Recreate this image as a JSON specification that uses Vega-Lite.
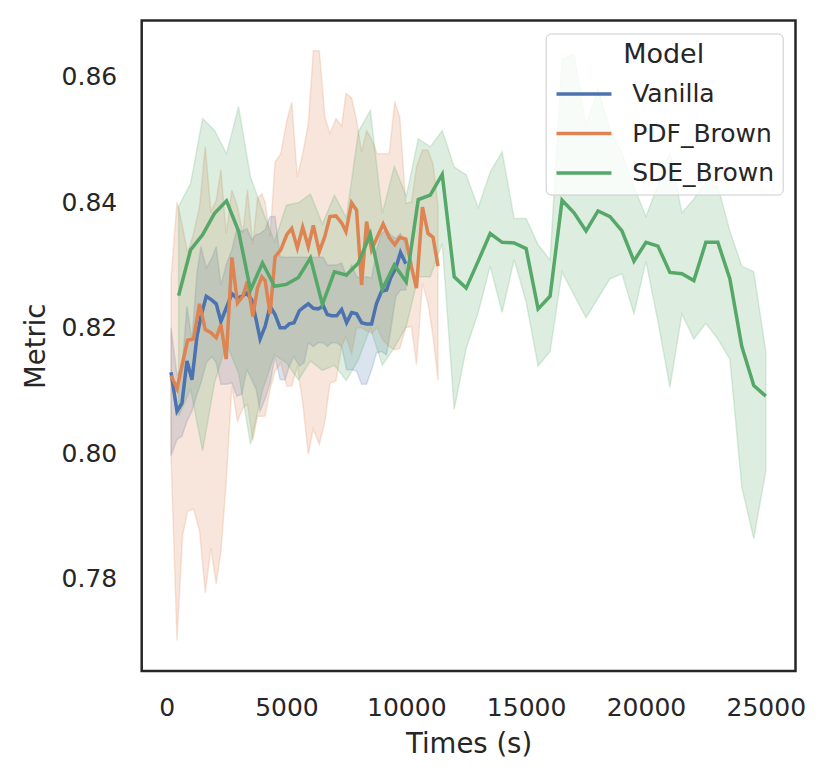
{
  "$schema": "https://vega.github.io/schema/vega-lite/v6.json",
  "width": 653.8,
  "height": 650.5,
  "autosize": {"type": "none"},
  "padding": {"left": 141.7, "top": 20.5, "right": 33.5, "bottom": 110},
  "background": "white",
  "config": {
    "font": "DejaVu Sans",
    "view": {"stroke": "#262626", "strokeWidth": 2.5},
    "axis": {
      "grid": false,
      "domain": false,
      "ticks": false,
      "tickSize": 0,
      "labelFlush": false,
      "labelFont": "DejaVu Sans",
      "labelFontSize": 25,
      "labelColor": "#262626",
      "titleFont": "DejaVu Sans",
      "titleFontSize": 27.5,
      "titleFontWeight": "normal",
      "titleColor": "#262626"
    }
  },
  "data": {
    "values": [
      {"model": "Vanilla", "t": 183, "m": 0.8129, "lo": 0.7996, "hi": 0.8200},
      {"model": "Vanilla", "t": 433, "m": 0.8067, "lo": 0.8022, "hi": 0.8125},
      {"model": "Vanilla", "t": 641, "m": 0.8080, "lo": 0.8027, "hi": 0.8135},
      {"model": "Vanilla", "t": 849, "m": 0.8147, "lo": 0.8051, "hi": 0.8234},
      {"model": "Vanilla", "t": 1057, "m": 0.8117, "lo": 0.8067, "hi": 0.8180},
      {"model": "Vanilla", "t": 1266, "m": 0.8186, "lo": 0.8094, "hi": 0.8287},
      {"model": "Vanilla", "t": 1432, "m": 0.8218, "lo": 0.8112, "hi": 0.8329},
      {"model": "Vanilla", "t": 1653, "m": 0.8250, "lo": 0.8144, "hi": 0.8295},
      {"model": "Vanilla", "t": 1890, "m": 0.8244, "lo": 0.8154, "hi": 0.8311},
      {"model": "Vanilla", "t": 2069, "m": 0.8238, "lo": 0.8144, "hi": 0.8329},
      {"model": "Vanilla", "t": 2265, "m": 0.8210, "lo": 0.8110, "hi": 0.8268},
      {"model": "Vanilla", "t": 2485, "m": 0.8231, "lo": 0.8110, "hi": 0.8300},
      {"model": "Vanilla", "t": 2723, "m": 0.8254, "lo": 0.8112, "hi": 0.8324},
      {"model": "Vanilla", "t": 2931, "m": 0.8247, "lo": 0.8091, "hi": 0.8358},
      {"model": "Vanilla", "t": 3139, "m": 0.8250, "lo": 0.8094, "hi": 0.8353},
      {"model": "Vanilla", "t": 3347, "m": 0.8255, "lo": 0.8133, "hi": 0.8358},
      {"model": "Vanilla", "t": 3555, "m": 0.8244, "lo": 0.8117, "hi": 0.8340},
      {"model": "Vanilla", "t": 3734, "m": 0.8213, "lo": 0.8102, "hi": 0.8348},
      {"model": "Vanilla", "t": 3901, "m": 0.8182, "lo": 0.8067, "hi": 0.8350},
      {"model": "Vanilla", "t": 4109, "m": 0.8202, "lo": 0.8086, "hi": 0.8356},
      {"model": "Vanilla", "t": 4317, "m": 0.8234, "lo": 0.8112, "hi": 0.8377},
      {"model": "Vanilla", "t": 4525, "m": 0.8221, "lo": 0.8154, "hi": 0.8377},
      {"model": "Vanilla", "t": 4734, "m": 0.8200, "lo": 0.8117, "hi": 0.8313},
      {"model": "Vanilla", "t": 4942, "m": 0.8200, "lo": 0.8117, "hi": 0.8312},
      {"model": "Vanilla", "t": 5121, "m": 0.8206, "lo": 0.8139, "hi": 0.8312},
      {"model": "Vanilla", "t": 5316, "m": 0.8208, "lo": 0.8154, "hi": 0.8312},
      {"model": "Vanilla", "t": 5537, "m": 0.8227, "lo": 0.8139, "hi": 0.8312},
      {"model": "Vanilla", "t": 5733, "m": 0.8233, "lo": 0.8144, "hi": 0.8312},
      {"model": "Vanilla", "t": 5912, "m": 0.8238, "lo": 0.8176, "hi": 0.8312},
      {"model": "Vanilla", "t": 6120, "m": 0.8231, "lo": 0.8170, "hi": 0.8312},
      {"model": "Vanilla", "t": 6328, "m": 0.8230, "lo": 0.8176, "hi": 0.8312},
      {"model": "Vanilla", "t": 6536, "m": 0.8235, "lo": 0.8176, "hi": 0.8312},
      {"model": "Vanilla", "t": 6703, "m": 0.8221, "lo": 0.8170, "hi": 0.8300},
      {"model": "Vanilla", "t": 6886, "m": 0.8219, "lo": 0.8176, "hi": 0.8300},
      {"model": "Vanilla", "t": 7094, "m": 0.8219, "lo": 0.8176, "hi": 0.8300},
      {"model": "Vanilla", "t": 7302, "m": 0.8229, "lo": 0.8170, "hi": 0.8303},
      {"model": "Vanilla", "t": 7510, "m": 0.8208, "lo": 0.8133, "hi": 0.8281},
      {"model": "Vanilla", "t": 7718, "m": 0.8224, "lo": 0.8133, "hi": 0.8300},
      {"model": "Vanilla", "t": 7927, "m": 0.8222, "lo": 0.8131, "hi": 0.8281},
      {"model": "Vanilla", "t": 8135, "m": 0.8208, "lo": 0.8110, "hi": 0.8279},
      {"model": "Vanilla", "t": 8343, "m": 0.8206, "lo": 0.8110, "hi": 0.8281},
      {"model": "Vanilla", "t": 8551, "m": 0.8206, "lo": 0.8133, "hi": 0.8279},
      {"model": "Vanilla", "t": 8759, "m": 0.8239, "lo": 0.8160, "hi": 0.8324},
      {"model": "Vanilla", "t": 8968, "m": 0.8258, "lo": 0.8162, "hi": 0.8350},
      {"model": "Vanilla", "t": 9176, "m": 0.8260, "lo": 0.8157, "hi": 0.8356},
      {"model": "Vanilla", "t": 9342, "m": 0.8279, "lo": 0.8194, "hi": 0.8348},
      {"model": "Vanilla", "t": 9563, "m": 0.8295, "lo": 0.8250, "hi": 0.8342},
      {"model": "Vanilla", "t": 9758, "m": 0.8320, "lo": 0.8260, "hi": 0.8350},
      {"model": "Vanilla", "t": 9979, "m": 0.8302, "lo": 0.8260, "hi": 0.8332},
      {"model": "PDF_Brown", "t": 183, "m": 0.8124, "lo": 0.7995, "hi": 0.8279},
      {"model": "PDF_Brown", "t": 433, "m": 0.8103, "lo": 0.7702, "hi": 0.8400},
      {"model": "PDF_Brown", "t": 666, "m": 0.8144, "lo": 0.7869, "hi": 0.8361},
      {"model": "PDF_Brown", "t": 874, "m": 0.8180, "lo": 0.7908, "hi": 0.8319},
      {"model": "PDF_Brown", "t": 1124, "m": 0.8182, "lo": 0.7911, "hi": 0.8350},
      {"model": "PDF_Brown", "t": 1374, "m": 0.8238, "lo": 0.7877, "hi": 0.8393},
      {"model": "PDF_Brown", "t": 1611, "m": 0.8197, "lo": 0.7778, "hi": 0.8489},
      {"model": "PDF_Brown", "t": 1848, "m": 0.8192, "lo": 0.7849, "hi": 0.8385},
      {"model": "PDF_Brown", "t": 2069, "m": 0.8184, "lo": 0.7792, "hi": 0.8403},
      {"model": "PDF_Brown", "t": 2265, "m": 0.8205, "lo": 0.7843, "hi": 0.8452},
      {"model": "PDF_Brown", "t": 2485, "m": 0.8150, "lo": 0.7953, "hi": 0.8350},
      {"model": "PDF_Brown", "t": 2723, "m": 0.8312, "lo": 0.8107, "hi": 0.8419},
      {"model": "PDF_Brown", "t": 2956, "m": 0.8239, "lo": 0.8051, "hi": 0.8393},
      {"model": "PDF_Brown", "t": 3181, "m": 0.8250, "lo": 0.8072, "hi": 0.8350},
      {"model": "PDF_Brown", "t": 3372, "m": 0.8274, "lo": 0.8078, "hi": 0.8420},
      {"model": "PDF_Brown", "t": 3597, "m": 0.8218, "lo": 0.8020, "hi": 0.8332},
      {"model": "PDF_Brown", "t": 3789, "m": 0.8263, "lo": 0.8059, "hi": 0.8406},
      {"model": "PDF_Brown", "t": 3972, "m": 0.8281, "lo": 0.8059, "hi": 0.8413},
      {"model": "PDF_Brown", "t": 4109, "m": 0.8275, "lo": 0.8059, "hi": 0.8400},
      {"model": "PDF_Brown", "t": 4317, "m": 0.8222, "lo": 0.8102, "hi": 0.8345},
      {"model": "PDF_Brown", "t": 4525, "m": 0.8313, "lo": 0.8131, "hi": 0.8464},
      {"model": "PDF_Brown", "t": 4763, "m": 0.8324, "lo": 0.8144, "hi": 0.8477},
      {"model": "PDF_Brown", "t": 5012, "m": 0.8348, "lo": 0.8107, "hi": 0.8529},
      {"model": "PDF_Brown", "t": 5221, "m": 0.8358, "lo": 0.8107, "hi": 0.8559},
      {"model": "PDF_Brown", "t": 5454, "m": 0.8327, "lo": 0.8139, "hi": 0.8440},
      {"model": "PDF_Brown", "t": 5679, "m": 0.8360, "lo": 0.8080, "hi": 0.8477},
      {"model": "PDF_Brown", "t": 5912, "m": 0.8329, "lo": 0.7998, "hi": 0.8525},
      {"model": "PDF_Brown", "t": 6120, "m": 0.8363, "lo": 0.8039, "hi": 0.8641},
      {"model": "PDF_Brown", "t": 6370, "m": 0.8321, "lo": 0.8014, "hi": 0.8641},
      {"model": "PDF_Brown", "t": 6607, "m": 0.8346, "lo": 0.8051, "hi": 0.8535},
      {"model": "PDF_Brown", "t": 6815, "m": 0.8377, "lo": 0.8112, "hi": 0.8509},
      {"model": "PDF_Brown", "t": 7065, "m": 0.8378, "lo": 0.8115, "hi": 0.8533},
      {"model": "PDF_Brown", "t": 7302, "m": 0.8367, "lo": 0.8170, "hi": 0.8521},
      {"model": "PDF_Brown", "t": 7481, "m": 0.8353, "lo": 0.8186, "hi": 0.8573},
      {"model": "PDF_Brown", "t": 7718, "m": 0.8399, "lo": 0.8159, "hi": 0.8566},
      {"model": "PDF_Brown", "t": 7927, "m": 0.8387, "lo": 0.8200, "hi": 0.8530},
      {"model": "PDF_Brown", "t": 8135, "m": 0.8268, "lo": 0.8200, "hi": 0.8480},
      {"model": "PDF_Brown", "t": 8343, "m": 0.8369, "lo": 0.8195, "hi": 0.8514},
      {"model": "PDF_Brown", "t": 8551, "m": 0.8324, "lo": 0.8191, "hi": 0.8500},
      {"model": "PDF_Brown", "t": 8784, "m": 0.8344, "lo": 0.8200, "hi": 0.8477},
      {"model": "PDF_Brown", "t": 9034, "m": 0.8365, "lo": 0.8180, "hi": 0.8477},
      {"model": "PDF_Brown", "t": 9284, "m": 0.8344, "lo": 0.8170, "hi": 0.8477},
      {"model": "PDF_Brown", "t": 9521, "m": 0.8332, "lo": 0.8165, "hi": 0.8560},
      {"model": "PDF_Brown", "t": 9730, "m": 0.8344, "lo": 0.8167, "hi": 0.8535},
      {"model": "PDF_Brown", "t": 9979, "m": 0.8341, "lo": 0.8200, "hi": 0.8398},
      {"model": "PDF_Brown", "t": 10216, "m": 0.8297, "lo": 0.8202, "hi": 0.8400},
      {"model": "PDF_Brown", "t": 10424, "m": 0.8263, "lo": 0.8141, "hi": 0.8456},
      {"model": "PDF_Brown", "t": 10674, "m": 0.8392, "lo": 0.8271, "hi": 0.8483},
      {"model": "PDF_Brown", "t": 10907, "m": 0.8350, "lo": 0.8239, "hi": 0.8483},
      {"model": "PDF_Brown", "t": 11116, "m": 0.8344, "lo": 0.8186, "hi": 0.8461},
      {"model": "PDF_Brown", "t": 11324, "m": 0.8298, "lo": 0.8116, "hi": 0.8394},
      {"model": "SDE_Brown", "t": 500, "m": 0.8251, "lo": 0.8059, "hi": 0.8393},
      {"model": "SDE_Brown", "t": 1000, "m": 0.8324, "lo": 0.8102, "hi": 0.8430},
      {"model": "SDE_Brown", "t": 1500, "m": 0.8348, "lo": 0.8004, "hi": 0.8533},
      {"model": "SDE_Brown", "t": 2000, "m": 0.8382, "lo": 0.8112, "hi": 0.8514},
      {"model": "SDE_Brown", "t": 2500, "m": 0.8402, "lo": 0.8175, "hi": 0.8477},
      {"model": "SDE_Brown", "t": 3000, "m": 0.8354, "lo": 0.8128, "hi": 0.8552},
      {"model": "SDE_Brown", "t": 3500, "m": 0.8260, "lo": 0.8014, "hi": 0.8440},
      {"model": "SDE_Brown", "t": 4000, "m": 0.8303, "lo": 0.8100, "hi": 0.8387},
      {"model": "SDE_Brown", "t": 4500, "m": 0.8266, "lo": 0.8157, "hi": 0.8337},
      {"model": "SDE_Brown", "t": 5000, "m": 0.8269, "lo": 0.8144, "hi": 0.8395},
      {"model": "SDE_Brown", "t": 5500, "m": 0.8280, "lo": 0.8117, "hi": 0.8399},
      {"model": "SDE_Brown", "t": 6000, "m": 0.8311, "lo": 0.8147, "hi": 0.8413},
      {"model": "SDE_Brown", "t": 6500, "m": 0.8237, "lo": 0.8132, "hi": 0.8365},
      {"model": "SDE_Brown", "t": 7000, "m": 0.8289, "lo": 0.8140, "hi": 0.8411},
      {"model": "SDE_Brown", "t": 7500, "m": 0.8284, "lo": 0.8116, "hi": 0.8375},
      {"model": "SDE_Brown", "t": 8000, "m": 0.8303, "lo": 0.8149, "hi": 0.8512},
      {"model": "SDE_Brown", "t": 8500, "m": 0.8349, "lo": 0.8200, "hi": 0.8546},
      {"model": "SDE_Brown", "t": 9000, "m": 0.8261, "lo": 0.8140, "hi": 0.8382},
      {"model": "SDE_Brown", "t": 9500, "m": 0.8300, "lo": 0.8168, "hi": 0.8457},
      {"model": "SDE_Brown", "t": 10000, "m": 0.8273, "lo": 0.8202, "hi": 0.8410},
      {"model": "SDE_Brown", "t": 10500, "m": 0.8404, "lo": 0.8281, "hi": 0.8501},
      {"model": "SDE_Brown", "t": 11000, "m": 0.8411, "lo": 0.8281, "hi": 0.8488},
      {"model": "SDE_Brown", "t": 11500, "m": 0.8444, "lo": 0.8334, "hi": 0.8514},
      {"model": "SDE_Brown", "t": 12000, "m": 0.8281, "lo": 0.8070, "hi": 0.8456},
      {"model": "SDE_Brown", "t": 12500, "m": 0.8263, "lo": 0.8167, "hi": 0.8443},
      {"model": "SDE_Brown", "t": 13000, "m": 0.8306, "lo": 0.8224, "hi": 0.8391},
      {"model": "SDE_Brown", "t": 13500, "m": 0.8350, "lo": 0.8298, "hi": 0.8448},
      {"model": "SDE_Brown", "t": 14000, "m": 0.8336, "lo": 0.8224, "hi": 0.8480},
      {"model": "SDE_Brown", "t": 14500, "m": 0.8335, "lo": 0.8309, "hi": 0.8374},
      {"model": "SDE_Brown", "t": 15000, "m": 0.8326, "lo": 0.8241, "hi": 0.8374},
      {"model": "SDE_Brown", "t": 15500, "m": 0.8230, "lo": 0.8139, "hi": 0.8332},
      {"model": "SDE_Brown", "t": 16000, "m": 0.8250, "lo": 0.8162, "hi": 0.8308},
      {"model": "SDE_Brown", "t": 16500, "m": 0.8403, "lo": 0.8289, "hi": 0.8628},
      {"model": "SDE_Brown", "t": 17000, "m": 0.8383, "lo": 0.8252, "hi": 0.8636},
      {"model": "SDE_Brown", "t": 17500, "m": 0.8354, "lo": 0.8216, "hi": 0.8522},
      {"model": "SDE_Brown", "t": 18000, "m": 0.8386, "lo": 0.8247, "hi": 0.8580},
      {"model": "SDE_Brown", "t": 18500, "m": 0.8377, "lo": 0.8278, "hi": 0.8516},
      {"model": "SDE_Brown", "t": 19000, "m": 0.8354, "lo": 0.8286, "hi": 0.8478},
      {"model": "SDE_Brown", "t": 19500, "m": 0.8306, "lo": 0.8222, "hi": 0.8425},
      {"model": "SDE_Brown", "t": 20000, "m": 0.8336, "lo": 0.8306, "hi": 0.8377},
      {"model": "SDE_Brown", "t": 20500, "m": 0.8330, "lo": 0.8210, "hi": 0.8427},
      {"model": "SDE_Brown", "t": 21000, "m": 0.8288, "lo": 0.8105, "hi": 0.8479},
      {"model": "SDE_Brown", "t": 21500, "m": 0.8286, "lo": 0.8222, "hi": 0.8383},
      {"model": "SDE_Brown", "t": 22000, "m": 0.8275, "lo": 0.8182, "hi": 0.8405},
      {"model": "SDE_Brown", "t": 22500, "m": 0.8336, "lo": 0.8207, "hi": 0.8432},
      {"model": "SDE_Brown", "t": 23000, "m": 0.8336, "lo": 0.8182, "hi": 0.8425},
      {"model": "SDE_Brown", "t": 23500, "m": 0.8278, "lo": 0.8150, "hi": 0.8354},
      {"model": "SDE_Brown", "t": 24000, "m": 0.8170, "lo": 0.7946, "hi": 0.8298},
      {"model": "SDE_Brown", "t": 24500, "m": 0.8108, "lo": 0.7864, "hi": 0.8289},
      {"model": "SDE_Brown", "t": 25000, "m": 0.8091, "lo": 0.7972, "hi": 0.8162}
    ]
  },
  "encoding": {
    "x": {
      "field": "t",
      "type": "quantitative",
      "scale": {"domain": [-1040, 26240], "nice": false, "zero": false},
      "axis": {
        "title": "Times (s)",
        "values": [0, 5000, 10000, 15000, 20000, 25000],
        "format": "d",
        "labelPadding": 24.5,
        "titlePadding": 10
      }
    },
    "y": {
      "field": "m",
      "type": "quantitative",
      "scale": {"domain": [0.76533, 0.86892], "nice": false, "zero": false},
      "axis": {
        "title": "Metric",
        "values": [0.78, 0.8, 0.82, 0.84, 0.86],
        "format": ".2f",
        "labelPadding": 25,
        "titlePadding": 11
      }
    }
  },
  "layer": [
    {
      "transform": [{"filter": "datum.model == 'Vanilla'"}],
      "mark": {"type": "area", "fill": "#4C72B0", "stroke": "#4C72B0", "fillOpacity": 0.2, "strokeOpacity": 0.2, "strokeWidth": 1.5},
      "encoding": {"y": {"field": "lo", "type": "quantitative"}, "y2": {"field": "hi"}}
    },
    {
      "transform": [{"filter": "datum.model == 'PDF_Brown'"}],
      "mark": {"type": "area", "fill": "#DD8452", "stroke": "#DD8452", "fillOpacity": 0.2, "strokeOpacity": 0.2, "strokeWidth": 1.5},
      "encoding": {"y": {"field": "lo", "type": "quantitative"}, "y2": {"field": "hi"}}
    },
    {
      "transform": [{"filter": "datum.model == 'SDE_Brown'"}],
      "mark": {"type": "area", "fill": "#55A868", "stroke": "#55A868", "fillOpacity": 0.2, "strokeOpacity": 0.2, "strokeWidth": 1.5},
      "encoding": {"y": {"field": "lo", "type": "quantitative"}, "y2": {"field": "hi"}}
    },
    {
      "mark": {"type": "line", "strokeWidth": 3.5},
      "encoding": {
        "color": {
          "field": "model",
          "type": "nominal",
          "sort": ["Vanilla", "PDF_Brown", "SDE_Brown"],
          "scale": {"domain": ["Vanilla", "PDF_Brown", "SDE_Brown"], "range": ["#4C72B0", "#DD8452", "#55A868"]},
          "legend": {
            "title": "Model",
            "orient": "top-right",
            "offset": 13,
            "padding": 8,
            "strokeColor": "#cccccc",
            "fillColor": "rgba(255,255,255,0.8)",
            "cornerRadius": 5,
            "titleFont": "DejaVu Sans",
            "titleFontSize": 27,
            "titleFontWeight": "normal",
            "titleColor": "#262626",
            "titleAnchor": "middle",
            "titlePadding": 10,
            "labelFont": "DejaVu Sans",
            "labelFontSize": 25,
            "labelColor": "#262626",
            "symbolType": "M-2,0L2,0",
            "symbolSize": 756,
            "symbolStrokeWidth": 3.5,
            "symbolOffset": 14.75,
            "labelOffset": 32.75,
            "rowPadding": 10.5
          }
        }
      }
    }
  ]
}
